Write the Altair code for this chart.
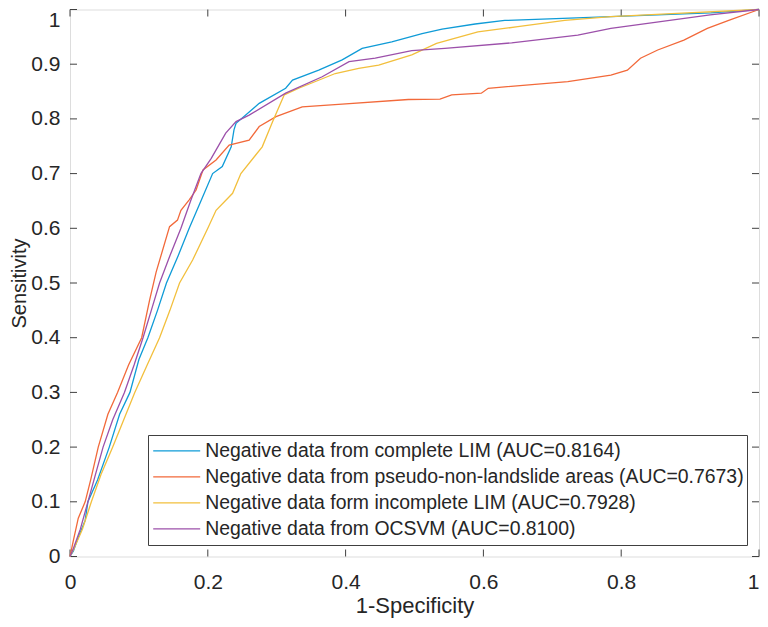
import altair as alt
import pandas as pd

# ---------------- data ----------------
labels = [
    "Negative data from complete LIM (AUC=0.8164)",
    "Negative data from pseudo-non-landslide areas (AUC=0.7673)",
    "Negative data form incomplete LIM (AUC=0.7928)",
    "Negative data from OCSVM (AUC=0.8100)",
]
colors = ["#0f9bd7", "#f2693a", "#f2bf3c", "#9c50aa"]

blue_x = [0, 0.005, 0.012, 0.022, 0.026, 0.04, 0.057, 0.072, 0.087, 0.1, 0.113, 0.127, 0.14, 0.157, 0.173,
          0.19, 0.207, 0.221, 0.234, 0.238, 0.241, 0.2746, 0.313, 0.323, 0.361, 0.395, 0.424, 0.467, 0.511,
          0.540, 0.588, 0.631, 0.785, 0.93, 1]
blue_y = [0, 0.01, 0.035, 0.066, 0.1, 0.14, 0.2, 0.26, 0.3, 0.36, 0.4, 0.45, 0.5, 0.55, 0.6,
          0.65, 0.7, 0.713, 0.749, 0.78, 0.792, 0.8285, 0.856, 0.871, 0.889, 0.908, 0.929, 0.941, 0.956,
          0.964, 0.9735, 0.98, 0.987, 0.994, 1]

orange_x = [0, 0.005, 0.012, 0.022, 0.03, 0.041, 0.055, 0.069, 0.085, 0.104, 0.1156, 0.125, 0.1445, 0.156,
            0.161, 0.173, 0.183, 0.193, 0.212, 0.231, 0.26, 0.2746, 0.299, 0.337, 0.395, 0.491, 0.537, 0.554,
            0.597, 0.607, 0.7225, 0.785, 0.809, 0.828, 0.853, 0.891, 0.925, 0.958, 1]
orange_y = [0, 0.03, 0.07, 0.1, 0.14, 0.2, 0.26, 0.3, 0.35, 0.4, 0.469, 0.52, 0.603, 0.615,
            0.633, 0.652, 0.67, 0.7066, 0.725, 0.752, 0.761, 0.786, 0.804, 0.822, 0.827, 0.8355, 0.836, 0.844,
            0.847, 0.856, 0.868, 0.880, 0.889, 0.911, 0.926, 0.944, 0.9656, 0.981, 1]

yellow_x = [0, 0.006, 0.018, 0.031, 0.045, 0.062, 0.078, 0.094, 0.112, 0.13, 0.145, 0.159, 0.178, 0.2, 0.212,
            0.236, 0.248, 0.279, 0.294, 0.311, 0.332, 0.385, 0.419, 0.448, 0.496, 0.532, 0.592, 0.650, 0.718,
            0.785, 0.881, 1]
yellow_y = [0, 0.015, 0.05, 0.1, 0.15, 0.2, 0.25, 0.3, 0.35, 0.4, 0.45, 0.5, 0.542, 0.6, 0.633,
            0.664, 0.7, 0.749, 0.795, 0.844, 0.856, 0.883, 0.8925, 0.8985, 0.917, 0.938, 0.959, 0.9686, 0.980,
            0.987, 0.993, 1]

purple_x = [0, 0.005, 0.015, 0.026, 0.037, 0.048, 0.062, 0.079, 0.093, 0.106, 0.118, 0.13, 0.145, 0.161, 0.175,
            0.19, 0.205, 0.226, 0.241, 0.26, 0.313, 0.366, 0.405, 0.443, 0.496, 0.544, 0.641, 0.737, 0.785,
            0.857, 0.929, 1]
purple_y = [0, 0.015, 0.05, 0.1, 0.15, 0.2, 0.25, 0.3, 0.35, 0.4, 0.45, 0.5, 0.55, 0.6, 0.65,
            0.7, 0.728, 0.774, 0.795, 0.807, 0.847, 0.877, 0.9046, 0.911, 0.925, 0.929, 0.939, 0.953, 0.9656,
            0.978, 0.99, 1]

x_ticks = [0, 0.2, 0.4, 0.6, 0.8, 1]
y_ticks = [0, 0.1, 0.2, 0.3, 0.4, 0.5, 0.6, 0.7, 0.8, 0.9, 1]

# ---------------- build table ----------------
rows = []
for lab, xs, ys in zip(labels, [blue_x, orange_x, yellow_x, purple_x],
                       [blue_y, orange_y, yellow_y, purple_y]):
    for i, (a, b) in enumerate(zip(xs, ys)):
        rows.append({"fpr": a, "tpr": b, "series": lab, "idx": i})
df = pd.DataFrame(rows)
xt = pd.DataFrame({"fpr": x_ticks})
yt = pd.DataFrame({"tpr": y_ticks})

W, H = 689, 547
FONT = "Liberation Sans"
AX = "#262626"

xscale = alt.Scale(domain=[0, 1], nice=False, zero=False)
yscale = alt.Scale(domain=[0, 1], nice=False, zero=False)

xaxis = alt.Axis(values=x_ticks, format="~g", title="1-Specificity", grid=False, domain=False,
                 ticks=False, labelFontSize=21, titleFontSize=22, labelPadding=14.5,
                 labelAlign={"expr": "datum.value == 1 ? 'right' : 'center'"},
                 titleY=56, titleBaseline="alphabetic",
                 labelFont=FONT, titleFont=FONT, labelColor=AX, titleColor=AX, titleFontWeight="normal",
                 labelFlush=False)
yaxis = alt.Axis(values=y_ticks, format="~g", title="Sensitivity", grid=False, domain=False,
                 ticks=False, labelFontSize=21, titleFontSize=20, labelPadding=10,
                 titleX=-61, titleBaseline="top",
                 labelBaseline={"expr": "datum.value == 1 ? 'top' : 'middle'"},
                 labelFont=FONT, titleFont=FONT, labelColor=AX, titleColor=AX, titleFontWeight="normal",
                 labelFlush=False)

lines = alt.Chart(df).mark_line(strokeWidth=1.3, interpolate="linear").encode(
    x=alt.X("fpr:Q", scale=xscale, axis=xaxis),
    y=alt.Y("tpr:Q", scale=yscale, axis=yaxis),
    order="idx:Q",
    color=alt.Color("series:N", sort=labels,
                    scale=alt.Scale(domain=labels, range=colors),
                    legend=alt.Legend(title=None, orient="none", legendX=78, legendY=425.5,
                                      symbolType="M-2.5,0H2.5", symbolSize=353, symbolStrokeWidth=1.3,
                                      labelFontSize=19.4, labelFont=FONT, labelColor=AX,
                                      labelLimit=800, labelOffset=18, symbolOffset=15, rowPadding=0,
                                      clipHeight=25.3,
                                      strokeColor="#404040", fillColor="white", padding=3.2,
                                      cornerRadius=0)),
)

tick_style = dict(color="#404040", strokeWidth=1)
xb = alt.Chart(xt).mark_rule(**tick_style).encode(x=alt.X("fpr:Q", scale=xscale), y=alt.value(H), y2=alt.value(H - 7))
xtop = alt.Chart(xt).mark_rule(**tick_style).encode(x=alt.X("fpr:Q", scale=xscale), y=alt.value(0), y2=alt.value(7))
yl = alt.Chart(yt).mark_rule(**tick_style).encode(y=alt.Y("tpr:Q", scale=yscale), x=alt.value(0), x2=alt.value(7))
yr = alt.Chart(yt).mark_rule(**tick_style).encode(y=alt.Y("tpr:Q", scale=yscale), x=alt.value(W), x2=alt.value(W - 7))

chart = alt.layer(xb, xtop, yl, yr, lines).properties(
    width=W, height=H,
    autosize=alt.AutoSizeParams(type="none"),
    padding={"left": 62, "top": 1.5, "right": 1, "bottom": 61.5},
).configure_view(stroke="#404040", strokeWidth=1).configure(background="white")

chart.save("out.html", embed_options={"renderer": "svg", "actions": False})
